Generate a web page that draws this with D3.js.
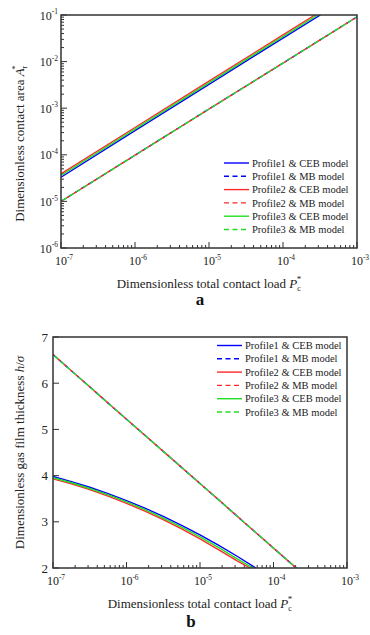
<!DOCTYPE html>
<html><head><meta charset="utf-8">
<script src="https://cdn.jsdelivr.net/npm/d3@7"></script>
<style>
body{margin:0;background:#fff;}
svg{display:block;}
svg text{font-family:"Liberation Serif","DejaVu Serif",serif;}
</style></head><body>
<script>
// ---------- DATA ----------
const seriesNames = ["Profile1 & CEB model","Profile1 & MB model","Profile2 & CEB model","Profile2 & MB model","Profile3 & CEB model","Profile3 & MB model"];
const colors = ["#0000ff","#ff2a2a","#22dd22"];

// Chart a : contact area vs load
const aLoadCEB1 = [1e-7,1e-6,1e-5,1e-4,3.2e-4];
const aAreaCEB1 = [3.3e-5,3.3e-4,3.25e-3,3.2e-2,0.1];
const aLoadCEB2 = [1e-7,1e-6,1e-5,1e-4,2.7e-4];
const aAreaCEB2 = [3.9e-5,3.85e-4,3.8e-3,3.75e-2,0.1];
const aLoadCEB3 = [1e-7,1e-6,1e-5,1e-4,2.95e-4];
const aAreaCEB3 = [3.6e-5,3.55e-4,3.5e-3,3.45e-2,0.1];
const aLoadMB = [1e-7,1e-6,1e-5,1e-4,1e-3];
const aAreaMB1 = [1e-5,9.8e-5,9.6e-4,9.3e-3,9.1e-2];
const aAreaMB2 = [1e-5,9.8e-5,9.6e-4,9.3e-3,9.1e-2];
const aAreaMB3 = [1e-5,9.8e-5,9.6e-4,9.3e-3,9.1e-2];

// Chart b : film thickness vs load
const bLoadCEB1 = [1e-7,1.78e-7,3.16e-7,5.62e-7,1e-6,1.78e-6,3.16e-6,5.62e-6,1e-5,1.78e-5,3.16e-5,5.75e-5];
const bHCEB1 = [3.98,3.871,3.748,3.611,3.46,3.295,3.116,2.923,2.716,2.495,2.26,2.0];
const bLoadCEB2 = [1e-7,1.78e-7,3.16e-7,5.62e-7,1e-6,1.78e-6,3.16e-6,5.62e-6,1e-5,1.78e-5,3.16e-5,4.79e-5];
const bHCEB2 = [3.93,3.82,3.695,3.555,3.40,3.23,3.045,2.845,2.63,2.40,2.16,2.0];
const bLoadCEB3 = [1e-7,1.78e-7,3.16e-7,5.62e-7,1e-6,1.78e-6,3.16e-6,5.62e-6,1e-5,1.78e-5,3.16e-5,5.25e-5];
const bHCEB3 = [3.955,3.845,3.72,3.583,3.43,3.262,3.08,2.884,2.673,2.448,2.205,2.0];
const bLoadMB = [1e-7,1e-6,1e-5,1e-4,2.04e-4];
const bHMB1 = [6.62,5.22,3.83,2.43,2.0];
const bHMB2 = [6.62,5.22,3.83,2.43,2.0];
const bHMB3 = [6.62,5.22,3.83,2.43,2.0];

const xTickExps = [-7,-6,-5,-4,-3];
const aYTickExps = [-6,-5,-4,-3,-2,-1];
const bYTicks = [2,3,4,5,6,7];

// ---------- DRAW ----------
const W=370,H=635;
const svg=d3.select("body").append("svg").attr("width",W).attr("height",H)
  .attr("font-family","'Liberation Serif','DejaVu Serif',serif");
const axisColor="#333";
const textColor="#222";

function zip(xs,ys){return xs.map((x,i)=>[x,ys[i]]);}

function supLabel(sel, base, exp, size){
  sel.append("tspan").text(base);
  sel.append("tspan").attr("dy",-size*0.45).attr("font-size",size*0.62).text(exp);
}

function drawPanel(cfg){
  const {L,R,T,B,x,y,id}=cfg;
  const g=svg.append("g");
  g.append("clipPath").attr("id",id).append("rect").attr("x",L).attr("y",T).attr("width",R-L).attr("height",B-T);
  const xMinor=[];
  for(let e=-7;e<-3;e++) for(let m=2;m<=9;m++) xMinor.push(m*Math.pow(10,e));
  g.selectAll(".xmin").data(xMinor).enter().append("line")
    .attr("x1",d=>x(d)).attr("x2",d=>x(d)).attr("y1",B).attr("y2",B-3)
    .attr("stroke",axisColor).attr("stroke-width",1);
  g.selectAll(".xmaj").data(xTickExps).enter().append("line")
    .attr("x1",d=>x(Math.pow(10,d))).attr("x2",d=>x(Math.pow(10,d))).attr("y1",B).attr("y2",B-6)
    .attr("stroke",axisColor).attr("stroke-width",1);
  xTickExps.forEach(e=>{
    const t=g.append("text").attr("x",x(Math.pow(10,e))+3).attr("y",B+17).attr("text-anchor","middle")
      .attr("font-size",12).attr("fill",textColor);
    supLabel(t,"10",String(e),12);
  });
  cfg.yTicks(g);
  const lg=g.append("g").attr("clip-path",`url(#${id})`);
  const line=d3.line().x(d=>x(d[0])).y(d=>y(d[1]));
  cfg.series.forEach(s=>{
    lg.append("path").attr("d",line(s.data)).attr("fill","none").attr("stroke",s.color)
      .attr("stroke-width",1.4).attr("stroke-dasharray",s.dash?"5,3":null)
      .attr("stroke-dashoffset",s.off||0);
  });
  g.append("rect").attr("x",L).attr("y",T).attr("width",R-L).attr("height",B-T)
    .attr("fill","none").attr("stroke",axisColor).attr("stroke-width",1.5);
  const lgd=g.append("g");
  seriesNames.forEach((n,i)=>{
    const yy=cfg.legY+i*cfg.legDy;
    lgd.append("line").attr("x1",cfg.legX).attr("x2",cfg.legX+25).attr("y1",yy).attr("y2",yy)
      .attr("stroke",colors[Math.floor(i/2)]).attr("stroke-width",1.4)
      .attr("stroke-dasharray",i%2?"5,3.5":null);
    lgd.append("text").attr("x",cfg.legX+28).attr("y",yy+3.6).attr("font-size",10.5).attr("fill",textColor).text(n);
  });
}

// Panel a
{
  const L=61,R=357,T=15,B=248;
  const x=d3.scaleLog().domain([1e-7,1e-3]).range([L,R]);
  const y=d3.scaleLog().domain([1e-6,1e-1]).range([B,T]);
  drawPanel({id:"clipA",L,R,T,B,x,y,legX:224,legY:163,legDy:13.3,
    yTicks:(g)=>{
      const yMinor=[];
      for(let e=-6;e<-1;e++) for(let m=2;m<=9;m++) yMinor.push(m*Math.pow(10,e));
      g.selectAll(".ymin").data(yMinor).enter().append("line")
        .attr("x1",L).attr("x2",L+3).attr("y1",d=>y(d)).attr("y2",d=>y(d)).attr("stroke",axisColor).attr("stroke-width",1);
      g.selectAll(".ymaj").data(aYTickExps).enter().append("line")
        .attr("x1",L).attr("x2",L+6).attr("y1",d=>y(Math.pow(10,d))).attr("y2",d=>y(Math.pow(10,d))).attr("stroke",axisColor).attr("stroke-width",1);
      aYTickExps.forEach(e=>{
        const t=g.append("text").attr("x",L-3).attr("y",y(Math.pow(10,e))+4.5).attr("text-anchor","end")
          .attr("font-size",12).attr("fill",textColor);
        supLabel(t,"10",String(e),12);
      });
    },
    series:[
      {data:zip(aLoadCEB1,aAreaCEB1),color:colors[0]},
      {data:zip(aLoadMB,aAreaMB1),color:colors[0],dash:true,off:0},
      {data:zip(aLoadCEB2,aAreaCEB2),color:colors[1]},
      {data:zip(aLoadMB,aAreaMB2),color:colors[1],dash:true,off:3},
      {data:zip(aLoadCEB3,aAreaCEB3),color:colors[2]},
      {data:zip(aLoadMB,aAreaMB3),color:colors[2],dash:true,off:6},
    ]});
  const yt=svg.append("text").attr("transform",`translate(24,${(T+B)/2+12}) rotate(-90)`).attr("text-anchor","middle")
    .attr("font-size",13).attr("fill",textColor);
  yt.append("tspan").text("Dimensionless contact area ");
  yt.append("tspan").attr("font-style","italic").text("A");
  yt.append("tspan").attr("font-size",8).attr("dy",3).text("r");
  yt.append("tspan").attr("font-size",9).attr("dx",-4).attr("dy",-9).text("*");
  const xt=svg.append("text").attr("x",(L+R)/2).attr("y",288).attr("text-anchor","middle").attr("font-size",13).attr("fill",textColor);
  xt.append("tspan").text("Dimensionless total contact load ");
  xt.append("tspan").attr("font-style","italic").text("P");
  xt.append("tspan").attr("font-size",8).attr("dy",3).text("c");
  xt.append("tspan").attr("font-size",9).attr("dx",-4).attr("dy",-9).text("*");
  svg.append("text").attr("x",(L+R)/2-9).attr("y",305).attr("text-anchor","middle").attr("font-size",17).attr("font-weight","bold").attr("fill","#111").text("a");
}

// Panel b
{
  const L=53,R=347,T=337,B=568;
  const x=d3.scaleLog().domain([1e-7,1e-3]).range([L,R]);
  const y=d3.scaleLinear().domain([2,7]).range([B,T]);
  drawPanel({id:"clipB",L,R,T,B,x,y,legX:217,legY:345.5,legDy:13.3,
    yTicks:(g)=>{
      g.selectAll(".ymaj").data(bYTicks).enter().append("line")
        .attr("x1",L).attr("x2",L+6).attr("y1",d=>y(d)).attr("y2",d=>y(d)).attr("stroke",axisColor).attr("stroke-width",1);
      bYTicks.forEach(v=>{
        g.append("text").attr("x",L-5).attr("y",y(v)+4.5).attr("text-anchor","end")
          .attr("font-size",13).attr("fill",textColor).text(v);
      });
    },
    series:[
      {data:zip(bLoadCEB1,bHCEB1),color:colors[0]},
      {data:zip(bLoadMB,bHMB1),color:colors[0],dash:true,off:0},
      {data:zip(bLoadCEB2,bHCEB2),color:colors[1]},
      {data:zip(bLoadMB,bHMB2),color:colors[1],dash:true,off:3},
      {data:zip(bLoadCEB3,bHCEB3),color:colors[2]},
      {data:zip(bLoadMB,bHMB3),color:colors[2],dash:true,off:6},
    ]});
  const yt=svg.append("text").attr("transform",`translate(24,${(T+B)/2}) rotate(-90)`).attr("text-anchor","middle")
    .attr("font-size",13).attr("fill",textColor);
  yt.append("tspan").text("Dimensionless gas film thickness ");
  yt.append("tspan").attr("font-style","italic").text("h");
  yt.append("tspan").text("/");
  yt.append("tspan").attr("font-style","italic").text("σ");
  const xt=svg.append("text").attr("x",(L+R)/2).attr("y",608).attr("text-anchor","middle").attr("font-size",13).attr("fill",textColor);
  xt.append("tspan").text("Dimensionless total contact load ");
  xt.append("tspan").attr("font-style","italic").text("P");
  xt.append("tspan").attr("font-size",8).attr("dy",3).text("c");
  xt.append("tspan").attr("font-size",9).attr("dx",-4).attr("dy",-9).text("*");
  svg.append("text").attr("x",(L+R)/2-9).attr("y",627).attr("text-anchor","middle").attr("font-size",17).attr("font-weight","bold").attr("fill","#111").text("b");
}
</script>
</body></html>
